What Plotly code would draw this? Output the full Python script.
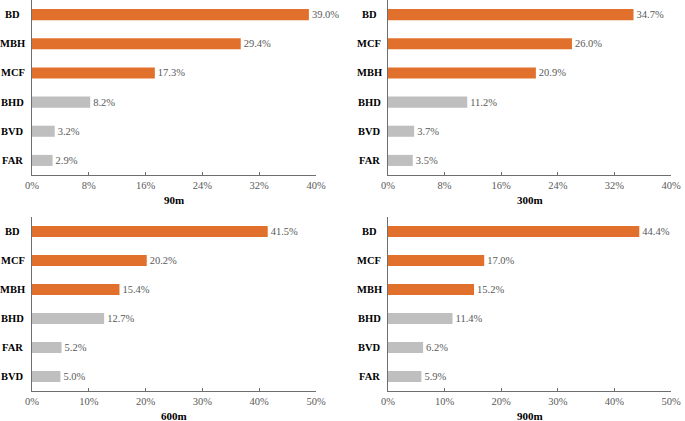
import plotly.graph_objects as go

W, H = 685, 421

titles = ["90m", "300m", "600m", "900m"]
cats_90 = ["BD", "MBH", "MCF", "BHD", "BVD", "FAR"]
vals_90 = [39.0, 29.4, 17.3, 8.2, 3.2, 2.9]
cats_300 = ["BD", "MCF", "MBH", "BHD", "BVD", "FAR"]
vals_300 = [34.7, 26.0, 20.9, 11.2, 3.7, 3.5]
cats_600 = ["BD", "MCF", "MBH", "BHD", "FAR", "BVD"]
vals_600 = [41.5, 20.2, 15.4, 12.7, 5.2, 5.0]
cats_900 = ["BD", "MCF", "MBH", "BHD", "BVD", "FAR"]
vals_900 = [44.4, 17.0, 15.2, 11.4, 6.2, 5.9]
ticks_top = [0, 8, 16, 24, 32, 40]
ticks_bottom = [0, 10, 20, 30, 40, 50]

ORANGE = "#E0702B"
GRAY = "#BFBFBF"
AXIS = "#6E6E6E"
TXT = "#595959"
FONT = "Times New Roman, Liberation Serif, serif"

panels = [
    (cats_90, vals_90, ticks_top, (32, 316), (0, 175)),
    (cats_300, vals_300, ticks_top, (388, 671), (0, 175)),
    (cats_600, vals_600, ticks_bottom, (32, 316), (217, 391)),
    (cats_900, vals_900, ticks_bottom, (388, 671), (217, 391)),
]

fig = go.Figure()
annotations = []
for i, (cats, vals, ticks, (x0, x1), (y0, y1)) in enumerate(panels):
    n = "" if i == 0 else str(i + 1)
    xa, ya = "x" + n, "y" + n
    colors = [ORANGE if k < 3 else GRAY for k in range(len(vals))]
    fig.add_trace(go.Bar(
        x=vals, y=cats, orientation="h", xaxis=xa, yaxis=ya,
        marker=dict(color=colors, line=dict(width=0)),
        width=0.38,
        text=[f"{v:.1f}%" for v in vals], textposition="outside",
        textfont=dict(family=FONT, size=10.5, color=TXT),
        cliponaxis=False, showlegend=False, hoverinfo="skip",
    ))
    fig.update_layout(**{
        "xaxis" + n: dict(
            domain=[x0 / W, x1 / W], anchor=ya, range=[0, ticks[-1]],
            tickvals=ticks, ticktext=[f"{t}%" for t in ticks],
            showgrid=False, zeroline=False, showline=True, linecolor=AXIS, linewidth=1,
            ticks="inside", ticklen=3, tickcolor=AXIS, tickwidth=1,
            tickfont=dict(family=FONT, size=10.5, color=TXT), fixedrange=True,
            automargin=False,
        ),
        "yaxis" + n: dict(
            domain=[1 - y1 / H, 1 - y0 / H], anchor=xa,
            categoryorder="array", categoryarray=cats[::-1],
            range=[-0.5, len(cats) - 0.5],
            showgrid=False, zeroline=False, showline=True, linecolor=AXIS, linewidth=1,
            ticks="", showticklabels=False, fixedrange=True, automargin=False,
        ),
    })
    for c in cats:
        annotations.append(dict(
            x=0, xref=xa + " domain", y=c, yref=ya, xanchor="center", yanchor="middle",
            xshift=-19, text=f"<b>{c}</b>", showarrow=False,
            font=dict(family=FONT, size=10.5, color="#000000"),
        ))
    annotations.append(dict(
        x=0.5, xref=xa + " domain", y=0, yref=ya + " domain", xanchor="center",
        yanchor="middle", yshift=-25, text=f"<b>{titles[i]}</b>", showarrow=False,
        font=dict(family=FONT, size=11, color="#000000"),
    ))

fig.update_layout(
    template="none",
    width=W, height=H, margin=dict(l=0, r=0, t=0, b=0, pad=0),
    paper_bgcolor="white", plot_bgcolor="white",
    font=dict(family=FONT),
    annotations=annotations, bargap=0.6,
)
fig.write_html(
    "out.html",
    config={"displayModeBar": False, "staticPlot": True},
    post_script="document.body.style.margin='0';document.body.style.overflow='hidden';",
)
